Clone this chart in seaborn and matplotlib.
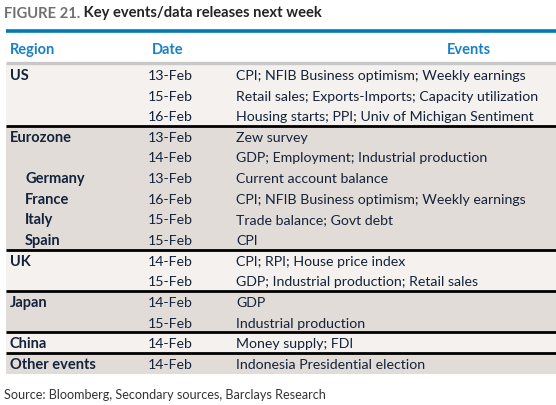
"""Key events / data releases next week (table figure)."""

import matplotlib.pyplot as plt
import seaborn as sns

# table content
regions = ["US", "", "", "Eurozone", "", "Germany", "France", "Italy", "Spain",
           "UK", "", "Japan", "", "China", "Other events"]
indented = [False, False, False, False, False, True, True, True, True,
            False, False, False, False, False, False]
dates = ["13-Feb", "15-Feb", "16-Feb", "13-Feb", "14-Feb", "13-Feb", "16-Feb", "15-Feb",
         "15-Feb", "14-Feb", "15-Feb", "14-Feb", "15-Feb", "14-Feb", "14-Feb"]
events = [
    "CPI; NFIB Business optimism; Weekly earnings",
    "Retail sales; Exports-Imports; Capacity utilization",
    "Housing starts; PPI; Univ of Michigan Sentiment",
    "Zew survey",
    "GDP; Employment; Industrial production",
    "Current account balance",
    "CPI; NFIB Business optimism; Weekly earnings",
    "Trade balance; Govt debt",
    "CPI",
    "CPI; RPI; House price index",
    "GDP; Industrial production; Retail sales",
    "GDP",
    "Industrial production",
    "Money supply; FDI",
    "Indonesia Presidential election",
]
# rows per block: US, Eurozone, UK, Japan, China, Other events
group_sizes = [3, 6, 2, 2, 1, 1]
headers = ["Region", "Date", "Events"]

TEXT = "#14233a"
BLUE_LINE = "#0079b4"
BLUE_TEXT = "#1a80c4"
LIGHT = "#f4f1ef"
DARK = "#e2dcd9"

ROW_TOP = 65.0
ROW_H = 20.64
X_LEFT, X_RIGHT = 6, 556
FS = 10.2
FS_BOLD = 10.5


def main() -> None:
    sns.set_theme(style="white")
    plt.rcParams["font.family"] = ["Lato", "DejaVu Sans"]

    fig = plt.figure(figsize=(5.56, 4.06), dpi=100)
    ax = fig.add_axes([0, 0, 1, 1])
    ax.set_xlim(0, 556)
    ax.set_ylim(406, 0)
    ax.axis("off")

    # title
    t = ax.text(4, 17.5, "FIGURE 21.", fontsize=10.6, fontweight="bold", color="#707070",
                va="baseline", ha="left")
    ax.annotate(" Key events/data releases next week", xy=(1, 0), xycoords=t,
                fontsize=10.6, fontweight="bold", color="#232323", va="bottom", ha="left")

    # header
    ax.plot([X_LEFT, X_RIGHT], [32, 32], color=BLUE_LINE, lw=2.6, solid_capstyle="butt")
    for label, x in zip(headers, [10, 152, 447]):
        ax.text(x, 54, label, fontsize=FS_BOLD, fontweight="bold", color=BLUE_TEXT,
                va="baseline", ha="left")

    # row blocks
    start = 0
    for g, size in enumerate(group_sizes):
        top = ROW_TOP + start * ROW_H
        bottom = ROW_TOP + (start + size) * ROW_H
        ax.fill_between([X_LEFT, X_RIGHT], top, bottom, color=LIGHT if g % 2 == 0 else DARK,
                        lw=0)
        if g > 0:
            ax.plot([X_LEFT, X_RIGHT], [top, top], color="black", lw=2.0,
                    solid_capstyle="butt")
        start += size
    ax.plot([X_LEFT, X_RIGHT], [64, 64], color="#c8c8c8", lw=2.4, solid_capstyle="butt")

    for i, (reg, ind, d, ev) in enumerate(zip(regions, indented, dates, events)):
        y = ROW_TOP + (i + 0.5) * ROW_H + 4.6
        ax.text(25 if ind else 10, y, reg, fontsize=FS_BOLD, fontweight="bold", color=TEXT,
                va="baseline", ha="left")
        ax.text(148, y, d, fontsize=FS, color=TEXT, va="baseline", ha="left")
        ax.text(236, y, ev, fontsize=FS, color=TEXT, va="baseline", ha="left")

    ax.text(4, 399, "Source: Bloomberg, Secondary sources, Barclays Research", fontsize=9.1,
            color="#333333", va="baseline", ha="left")

    fig.savefig("out.png", dpi=100)
    plt.close(fig)


if __name__ == "__main__":
    main()
